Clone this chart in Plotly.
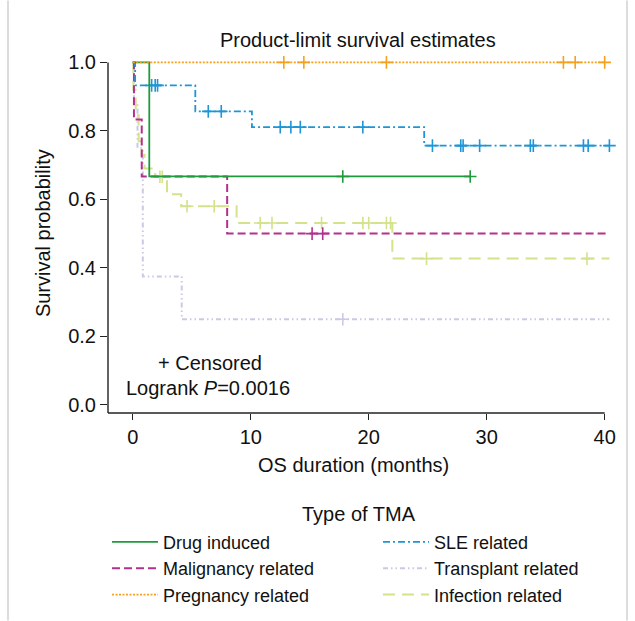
import numpy as np
import plotly.graph_objects as go

# ---------------- data ----------------
groups = ["Drug induced", "Malignancy related", "Pregnancy related",
          "SLE related", "Transplant related", "Infection related"]

drug_t = [0, 1.4, 28.6]
drug_s = [1.0, 0.667, 0.667]
drug_c = [17.8, 28.6]

mal_t = [0, 0.1, 0.76, 8.0, 40.3]
mal_s = [1.0, 0.833, 0.667, 0.5, 0.5]
mal_c = [15.2, 16.1]

preg_t = [0, 40.0]
preg_s = [1.0, 1.0]
preg_c = [12.8, 14.5, 21.5, 36.5, 37.5, 40.0]

sle_t = [0, 0.2, 5.3, 10.1, 24.7, 40.4]
sle_s = [1.0, 0.933, 0.857, 0.811, 0.757, 0.757]
sle_c = [1.6, 1.9, 2.1, 6.4, 7.5, 12.5, 13.4, 14.2, 19.5, 25.4, 27.8, 28.0,
         29.4, 33.7, 33.95, 38.2, 38.6, 40.4]

trans_t = [0, 0.1, 0.4, 0.85, 4.15, 40.4]
trans_s = [1.0, 0.875, 0.75, 0.375, 0.25, 0.25]
trans_c = [17.8]

inf_t = [0, 0.05, 0.25, 0.5, 0.75, 1.0, 1.9, 2.9, 4.1, 8.8, 22.0, 40.4]
inf_s = [1.0, 0.92, 0.846, 0.77, 0.73, 0.69, 0.666, 0.615, 0.58, 0.531, 0.427, 0.427]
inf_c = [2.3, 2.5, 4.6, 6.9, 10.8, 11.8, 16.0, 19.5, 20.0, 21.5, 21.85, 24.9, 38.5]

x_ticks = [0, 10, 20, 30, 40]
y_ticks = [0.0, 0.2, 0.4, 0.6, 0.8, 1.0]

series = {
    "Drug induced": (drug_t, drug_s, drug_c),
    "Malignancy related": (mal_t, mal_s, mal_c),
    "Pregnancy related": (preg_t, preg_s, preg_c),
    "SLE related": (sle_t, sle_s, sle_c),
    "Transplant related": (trans_t, trans_s, trans_c),
    "Infection related": (inf_t, inf_s, inf_c),
}

# ---------------- styles ----------------
styles = {
    "Drug induced": dict(color="#1f9b3e", dash="solid", width=1.8),
    "Malignancy related": dict(color="#b3318e", dash="8px,4px", width=2),
    "Pregnancy related": dict(color="#f4a21e", dash="2px,1.5px", width=1.8),
    "SLE related": dict(color="#1e95d6", dash="7px,3px,2px,3px", width=1.8),
    "Transplant related": dict(color="#cdc8e4", dash="5px,3px,1.5px,3px,1.5px,3px", width=2),
    "Infection related": dict(color="#d4e28c", dash="12px,7px", width=2),
}
legend_order = ["Drug induced", "SLE related", "Malignancy related",
                "Transplant related", "Pregnancy related", "Infection related"]

FONT = "Liberation Sans, Arial, sans-serif"
W, H = 635, 621
PL, PR, PT, PB = 108, 610, 58.6, 413.2


def xp(px):
    return (px - PL) / (PR - PL)


def yp(py):
    return (PB - py) / (PB - PT)


fig = go.Figure()

# draw order: back to front
draw_order = ["Transplant related", "Infection related", "Malignancy related",
              "SLE related", "Drug induced", "Pregnancy related"]
for name in draw_order:
    t, s, c = series[name]
    st = styles[name]
    fig.add_trace(go.Scatter(
        x=t, y=s, mode="lines", name=name, line_shape="hv",
        line=dict(color=st["color"], dash=st["dash"], width=st["width"]),
        legendrank=legend_order.index(name) + 1, showlegend=True,
        hoverinfo="skip"))
    idx = np.searchsorted(np.array(t), np.array(c), side="right") - 1
    cy = np.array(s)[idx]
    fig.add_trace(go.Scatter(
        x=c, y=cy, mode="markers", showlegend=False, cliponaxis=False,
        marker=dict(symbol="cross-thin", size=9,
                    line=dict(color=st["color"], width=1.6)),
        hoverinfo="skip"))

ann = [
    dict(text="Product-limit survival estimates", x=xp(357.5), y=yp(40),
         xanchor="center", yanchor="middle", font=dict(size=20)),
    dict(text="Survival probability", x=xp(43), y=yp(233), textangle=-90,
         xanchor="center", yanchor="middle", font=dict(size=20)),
    dict(text="OS duration (months)", x=xp(353.5), y=yp(465),
         xanchor="center", yanchor="middle", font=dict(size=20)),
    dict(text="+ Censored", x=xp(156), y=yp(363),
         xanchor="left", yanchor="middle", font=dict(size=20)),
    dict(text="Logrank <i>P</i>=0.0016", x=xp(124), y=yp(388),
         xanchor="left", yanchor="middle", font=dict(size=20)),
    dict(text="Type of TMA", x=xp(359), y=yp(514),
         xanchor="center", yanchor="middle", font=dict(size=20)),
]
for a in ann:
    a.update(xref="paper", yref="paper", showarrow=False)
    a["font"].update(family=FONT, color="#111")

shapes = [
    # axis lines
    dict(type="line", xref="x", yref="paper", x0=-2.1, x1=40, y0=0, y1=0,
         line=dict(color="#222", width=1.4)),
    dict(type="line", xref="paper", yref="y", x0=0, x1=0, y0=-0.024, y1=1.0,
         line=dict(color="#222", width=1.4)),
    # outer frame
    dict(type="line", xref="paper", yref="paper", x0=xp(8), x1=xp(8),
         y0=yp(0), y1=yp(621), line=dict(color="#d0d0d0", width=1.5)),
    dict(type="line", xref="paper", yref="paper", x0=xp(627), x1=xp(627),
         y0=yp(0), y1=yp(621), line=dict(color="#d0d0d0", width=1.5)),
]

fig.update_layout(
    width=W, height=H,
    margin=dict(l=PL, r=W - PR, t=PT, b=H - PB, pad=0, autoexpand=False),
    paper_bgcolor="white", plot_bgcolor="white",
    font=dict(family=FONT, size=20, color="#111"),
    showlegend=True,
    legend=dict(orientation="h", x=xp(107), y=yp(524), xanchor="left",
                yanchor="top", entrywidth=210, entrywidthmode="pixels",
                font=dict(size=18, family=FONT), bgcolor="rgba(0,0,0,0)",
                traceorder="normal", itemwidth=46),
    annotations=ann,
    shapes=shapes,
    xaxis=dict(range=[-2.1, 40.45], tickvals=x_ticks,
               ticktext=[str(v) for v in x_ticks],
               showgrid=False, zeroline=False, showline=False,
               ticks="outside", ticklen=6, tickwidth=1.4, tickcolor="#222",
               tickfont=dict(size=20, family=FONT)),
    yaxis=dict(range=[-0.024, 1.01], tickvals=y_ticks,
               ticktext=[f"{v:.1f}" for v in y_ticks],
               showgrid=False, zeroline=False, showline=False,
               ticks="outside", ticklen=7, tickwidth=1.4, tickcolor="#222",
               tickfont=dict(size=20, family=FONT)),
)

fig.write_html("out.html",
               config={"displayModeBar": False},
               post_script="document.body.style.margin='0';"
                           "document.body.style.padding='0';")
